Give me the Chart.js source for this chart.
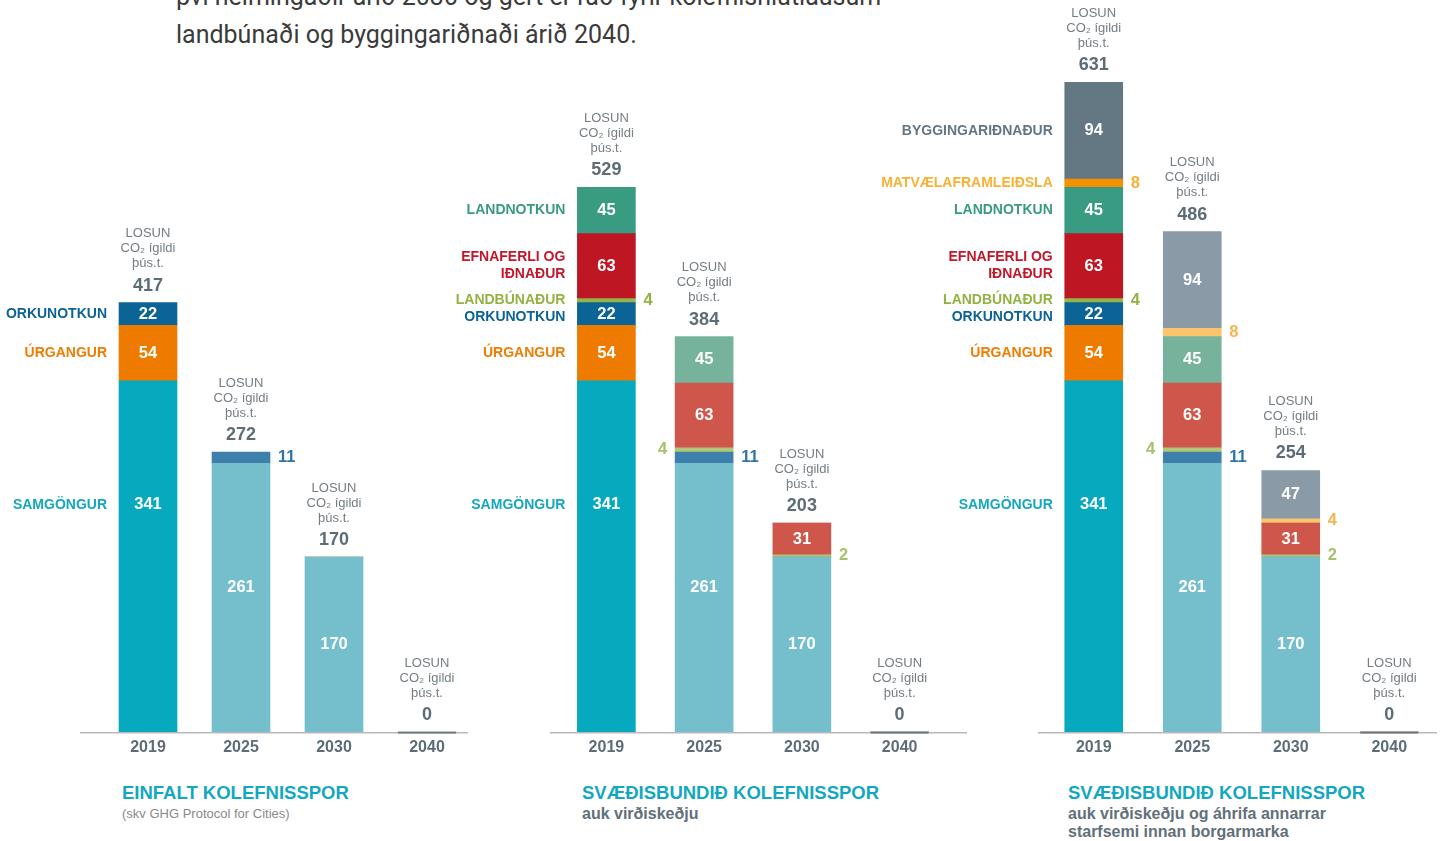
<!DOCTYPE html>
<html lang="is">
<head>
<meta charset="utf-8">
<title>Kolefnisspor Reykjavíkur</title>
<script src="https://cdn.jsdelivr.net/npm/chart.js@4.4.1/dist/chart.umd.min.js"></script>
<style>
  html, body { margin: 0; padding: 0; background: #fff; }
  body { width: 1441px; height: 841px; position: relative; overflow: hidden;
         font-family: "Liberation Sans", Arial, sans-serif; }
  .intro { position: absolute; left: 176px; top: -22px; font-family: Roboto, sans-serif;
           font-size: 25px; line-height: 38px; color: #3b3b3b; white-space: nowrap; }
  canvas { position: absolute; top: 0; }
  .title { position: absolute; top: 782px; font-weight: bold; font-size: 18.5px;
           line-height: 22px; color: #13a8bf; white-space: nowrap; }
  .sub { position: absolute; top: 805px; font-size: 13px; line-height: 18px; color: #8a8a8a; white-space: nowrap; }
  .sub.strong { font-weight: bold; font-size: 16px; color: #617079; }
</style>
</head>
<body>
<div class="intro">því helmingaðir árið 2030 og gert er ráð fyrir kolefnishlutlausum<br>landbúnaði og byggingariðnaði árið 2040.</div>

<canvas id="c1" width="480" height="770" style="left:0px"></canvas>
<canvas id="c2" width="540" height="770" style="left:440px"></canvas>
<canvas id="c3" width="581" height="770" style="left:860px"></canvas>

<div class="title" style="left:122px">EINFALT KOLEFNISSPOR</div>
<div class="sub" style="left:122px">(skv GHG Protocol for Cities)</div>
<div class="title" style="left:582px">SVÆÐISBUNDIÐ KOLEFNISSPOR</div>
<div class="sub strong" style="left:582px">auk virðiskeðju</div>
<div class="title" style="left:1068px">SVÆÐISBUNDIÐ KOLEFNISSPOR</div>
<div class="sub strong" style="left:1068px">auk virðiskeðju og áhrifa annarrar<br>starfsemi innan borgarmarka</div>

<script>
// ár
const years = ['2019', '2025', '2030', '2040'];

// losun í þús. tonnum CO2 ígilda, eftir geirum
const samgongur   = [341, 261, 170, 0];
const urgangur    = [54, 0, 0, 0];
const orkunotkun  = [22, 11, 0, 0];
const landbunadur = [4, 4, 2, 0];
const efnaferli   = [63, 63, 31, 0];
const landnotkun  = [45, 45, 0, 0];
const matvaeli    = [8, 8, 4, 0];
const byggingar   = [94, 94, 47, 0];

// geirar, neðst upp
const sectors = [
  { name: ['SAMGÖNGUR'], data: samgongur, strong: '#06a9bd', light: '#75bfcd', text: '#14a7bd', side: '#14a7bd' },
  { name: ['ÚRGANGUR'], data: urgangur, strong: '#ef7a00', light: '#f4a14c', text: '#ef7d00', side: '#ef7d00' },
  { name: ['ORKUNOTKUN'], data: orkunotkun, strong: '#0b6495', light: '#3d80ac', text: '#0b6394', side: '#2f74a6' },
  { name: ['LANDBÚNAÐUR'], data: landbunadur, strong: '#95b54a', light: '#b1c877', text: '#92b243', side: '#a5c16c' },
  { name: ['EFNAFERLI OG', 'IÐNAÐUR'], data: efnaferli, strong: '#be1623', light: '#cf564a', text: '#c0172a', side: '#cf564a' },
  { name: ['LANDNOTKUN'], data: landnotkun, strong: '#389b82', light: '#77b39c', text: '#3a9a80', side: '#77b39c' },
  { name: ['MATVÆLAFRAMLEIÐSLA'], data: matvaeli, strong: '#f29200', light: '#fcc56c', text: '#f8b134', side: '#f7b452' },
  { name: ['BYGGINGARIÐNAÐUR'], data: byggingar, strong: '#647884', light: '#8a9ba7', text: '#637683', side: '#637683' }
];

const FONT = '"Liberation Sans", Arial, sans-serif';

const labelPlugin = {
  id: 'sectorLabels',
  afterDatasetsDraw(chart) {
    const { ctx, chartArea, scales: { y } } = chart;
    const opts = chart.options.plugins.sectorLabels;
    const sets = chart.data.datasets;
    ctx.save();

    // grunnlína
    ctx.strokeStyle = '#b9b9b9';
    ctx.lineWidth = 1.5;
    ctx.beginPath();
    ctx.moveTo(opts.axisFrom, chartArea.bottom + 0.75);
    ctx.lineTo(opts.axisTo, chartArea.bottom + 0.75);
    ctx.stroke();

    years.forEach((yr, j) => {
      let total = 0;
      sets.forEach(ds => { total += ds.data[j]; });
      const first = chart.getDatasetMeta(0).data[j];
      const cx = first.x, half = first.width / 2;
      const top = y.getPixelForValue(total);

      if (total === 0) {
        ctx.strokeStyle = '#6b7378';
        ctx.lineWidth = 1.5;
        ctx.beginPath();
        ctx.moveTo(cx - half, chartArea.bottom + 0.75);
        ctx.lineTo(cx + half, chartArea.bottom + 0.75);
        ctx.stroke();
      }

      // LOSUN haus
      ctx.textAlign = 'center';
      ctx.textBaseline = 'middle';
      ctx.fillStyle = '#737d83';
      ctx.font = '13px ' + FONT;
      ctx.fillText('LOSUN', cx, top - 69);
      ctx.fillText('CO₂ ígildi', cx, top - 54);
      ctx.fillText('þús.t.', cx, top - 39);
      ctx.fillStyle = '#5d6d77';
      ctx.font = 'bold 18px ' + FONT;
      ctx.fillText(String(total), cx, top - 17);

      // gildi í súlum og við hlið
      let lastRightY = -1000;
      const names = [];
      sets.forEach((ds, i) => {
        const v = ds.data[j];
        if (!v) return;
        const s = ds.sector;
        const bar = chart.getDatasetMeta(i).data[j];
        const yTop = bar.y, yBot = bar.base, h = yBot - yTop;
        let labelY;
        ctx.font = 'bold 16.5px ' + FONT;
        if (v >= 20) {
          labelY = yTop + Math.min(h / 2, 124);
          ctx.fillStyle = '#ffffff';
          ctx.textAlign = 'center';
          ctx.fillText(String(v), cx, labelY);
        } else {
          labelY = (yTop + yBot) / 2;
          ctx.fillStyle = j === 0 ? s.text : s.side;
          if (Math.abs(labelY - lastRightY) < 14) {
            ctx.textAlign = 'right';
            ctx.fillText(String(v), cx - half - 8, labelY);
          } else {
            ctx.textAlign = 'left';
            ctx.fillText(String(v), cx + half + 8, labelY);
            lastRightY = labelY;
          }
        }
        if (j === 0) names.push({ y: labelY, s });
      });

      // heiti geira vinstra megin við fyrstu súlu
      if (j === 0) {
        for (let k = 1; k < names.length; k++) {
          const lo = names[k - 1], hi = names[k];
          const need = (lo.s.name.length + hi.s.name.length) * 17 / 2;
          const gap = lo.y - hi.y;
          if (gap < need) lo.y += need - gap;
        }
        ctx.font = 'bold 14px ' + FONT;
        ctx.textAlign = 'right';
        names.forEach(n => {
          ctx.fillStyle = n.s.text;
          const lines = n.s.name;
          lines.forEach((line, li) => {
            const ly = n.y + (li - (lines.length - 1) / 2) * 17;
            ctx.fillText(line, cx - half - 12, ly);
          });
        });
      }
    });
    ctx.restore();
  }
};

function makeChart(id, count, pad, axisFrom, axisTo) {
  const used = sectors.slice(0, count);
  return new Chart(document.getElementById(id), {
    type: 'bar',
    data: {
      labels: years,
      datasets: used.map(s => ({
        label: s.name.join(' '),
        sector: s,
        data: s.data,
        backgroundColor: years.map((_, j) => j === 0 ? s.strong : s.light),
        borderWidth: 0,
        barThickness: 58
      }))
    },
    options: {
      responsive: false,
      animation: false,
      devicePixelRatio: 1,
      layout: { padding: { left: pad[0], right: pad[1], top: 0, bottom: 0 } },
      plugins: {
        legend: { display: false },
        tooltip: { enabled: false },
        sectorLabels: { axisFrom, axisTo }
      },
      scales: {
        x: {
          stacked: true,
          grid: { display: false, drawTicks: false },
          border: { display: false },
          ticks: { color: '#5d6d77', font: { family: FONT, size: 16, weight: 'bold' }, padding: 6 },
          afterFit(scale) { scale.height = 38; }
        },
        y: {
          stacked: true,
          display: false,
          min: 0,
          max: 711
        }
      }
    },
    plugins: [labelPlugin]
  });
}

makeChart('c1', 3, [101.5, 6.5], 80, 468);
makeChart('c2', 6, [117.5, 31.5], 110, 527);
makeChart('c3', 8, [184.5, 2.5], 178, 577);
</script>
</body>
</html>
